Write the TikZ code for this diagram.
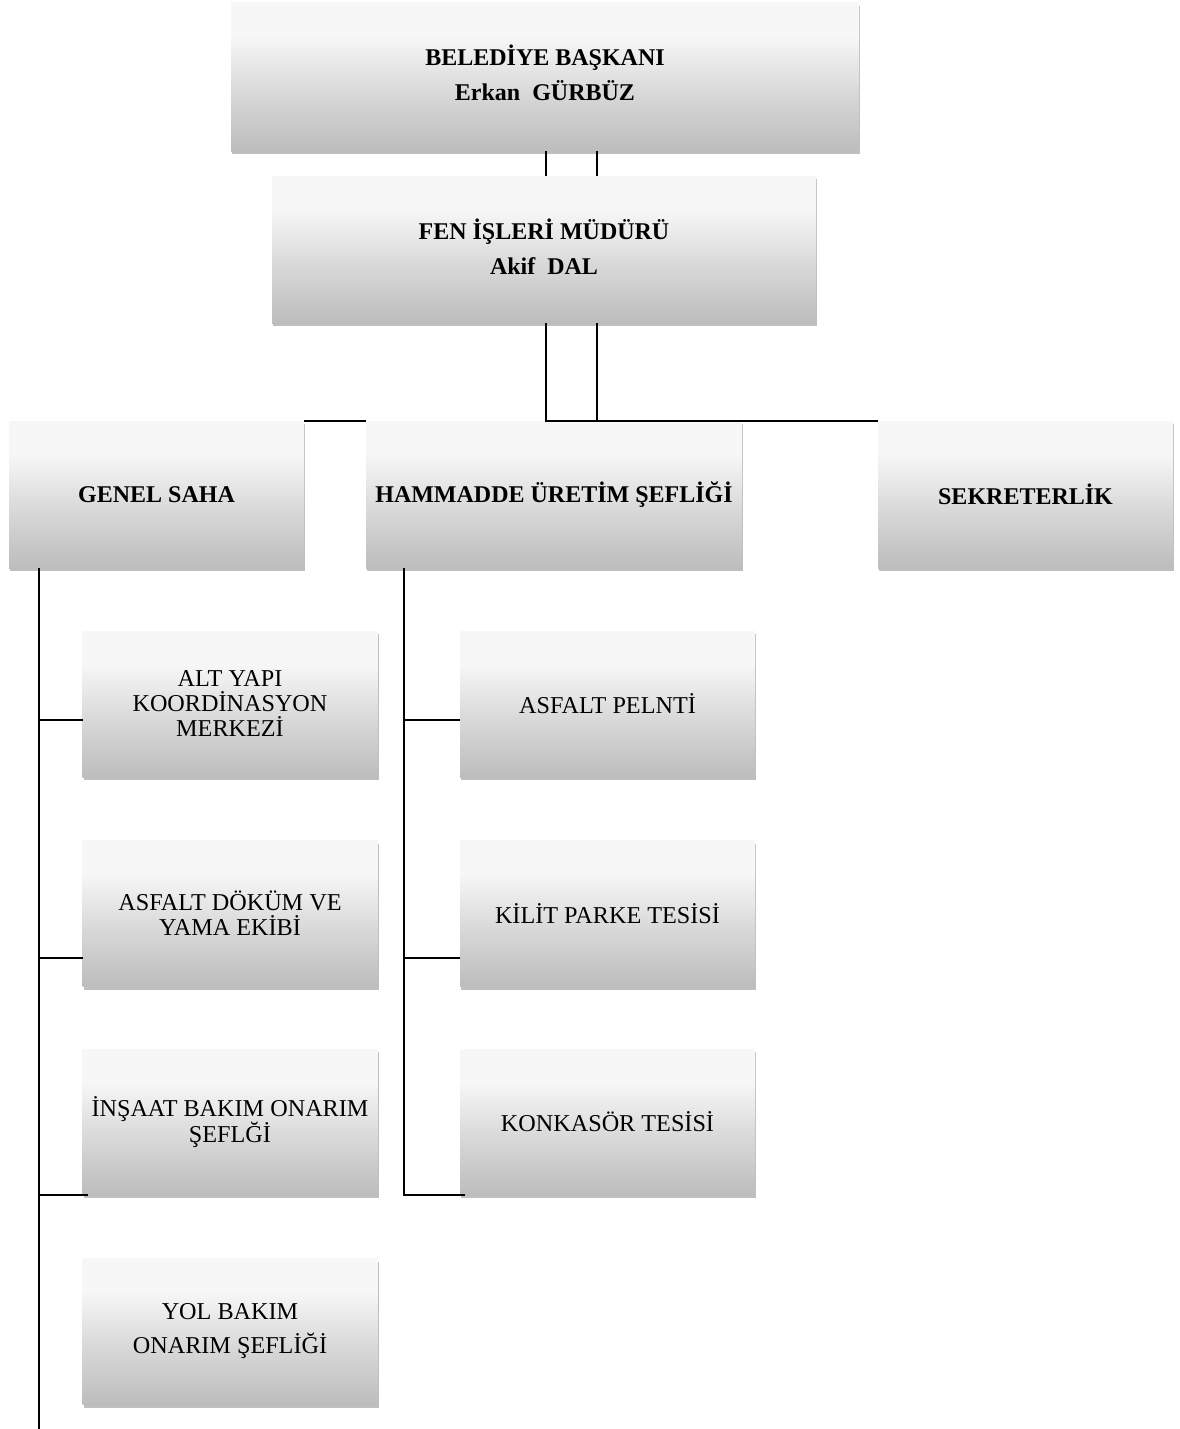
\documentclass[tikz,border=0pt]{standalone}
\usepackage{fontspec}
\setmainfont{Liberation Serif}
\usetikzlibrary{positioning,shadows}
\pgfdeclareverticalshading{boxfade}{100bp}{color(0bp)=(black!26); color(25bp)=(black!26); color(45bp)=(black!15); color(64bp)=(black!3); color(100bp)=(black!3)}

\begin{document}
\begin{tikzpicture}[x=1pt, y=-1pt,
  box/.style={shading=boxfade, inner sep=0pt, outer sep=0pt, align=center, minimum width=295pt, minimum height=147pt,
    drop shadow={shadow xshift=1pt, shadow yshift=-3pt, opacity=0.25, fill=black}},
  headbox/.style={box, font=\fontsize{24}{35}\selectfont\bfseries},
  unitbox/.style={box, font=\fontsize{24}{35}\selectfont\bfseries},
  childbox/.style={box, minimum width=295pt, minimum height=146pt, font=\fontsize{24.2}{25}\selectfont},
  conn/.style={line width=1.6pt, black}
]
\useasboundingbox (0,0) rectangle (1179,1429);

\node[headbox, minimum width=628pt, minimum height=148pt] (baskan) at (545,77) {BELEDİYE BAŞKANI\\Erkan~~GÜRBÜZ\\[-27pt]};
\node[headbox, minimum width=544pt] (fen) at (544,249.5) {FEN İŞLERİ MÜDÜRÜ\\Akif~~DAL\\[-30pt]};

\node[unitbox] (genel) at (156.5,494.5) {GENEL SAHA};
\node[unitbox, minimum width=376pt] (hammadde) at (554,494.5) {HAMMADDE ÜRETİM ŞEFLİĞİ};
\node[unitbox] (sekreter) at (1025.5,494.5) {SEKRETERLİK};

\node[childbox] (altyapi) at (230,704) {ALT YAPI\\KOORDİNASYON\\MERKEZİ};
\node[childbox] (asfaltdokum) at (230,913.5) {ASFALT DÖKÜM VE\\YAMA EKİBİ};
\node[childbox] (insaat) at (230,1122) {İNŞAAT BAKIM ONARIM\\ŞEFLĞİ};
\node[childbox] (yolbakim) at (230,1331.5) {YOL BAKIM\\[9pt]ONARIM ŞEFLİĞİ};

\node[childbox] (plent) at (607.5,704) {ASFALT PELNTİ};
\node[childbox] (kilit) at (607.5,913.5) {KİLİT PARKE TESİSİ};
\node[childbox] (konkasor) at (607.5,1122) {KONKASÖR TESİSİ};

\coordinate (trunkend) at (39,1429);

\draw[conn] ([xshift=1pt]baskan.south) -- ([xshift=1pt]baskan.south |- fen.north);
\draw[conn] ([xshift=52pt]baskan.south) -- ([xshift=52pt]baskan.south |- fen.north);
\draw[conn] ([xshift=2pt]fen.south) |- (sekreter.north west);
\draw[conn] ([xshift=53pt]fen.south) -- ([xshift=53pt]fen.south |- sekreter.north);
\draw[conn] (genel.north east) -- (hammadde.north west);

\draw[conn] ([xshift=30pt]genel.south west) -- (trunkend);
\draw[conn] ([yshift=-16pt]altyapi.west) -- ++(-44,0);
\draw[conn] ([yshift=-44.5pt]asfaltdokum.west) -- ++(-44,0);
\draw[conn] ([xshift=5pt]insaat.south west) -- ++(-49,0);

\draw[conn] ([xshift=38pt]hammadde.south west) |- ([xshift=5pt]konkasor.south west);
\draw[conn] ([yshift=-16pt]plent.west) -- ++(-56,0);
\draw[conn] ([yshift=-44.5pt]kilit.west) -- ++(-56,0);
\end{tikzpicture}
\end{document}
